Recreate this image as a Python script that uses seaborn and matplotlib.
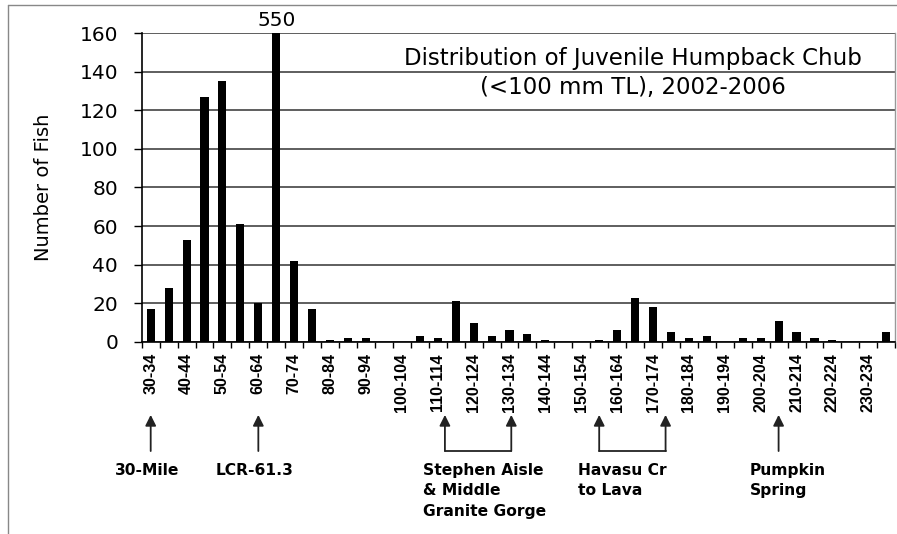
import numpy as np
import seaborn as sns
import matplotlib
matplotlib.use("Agg")
import matplotlib.pyplot as plt
from matplotlib.lines import Line2D

# length classes (mm TL) and fish counts
bins = [f"{a}-{a + 4}" for a in range(30, 240, 5)]
counts = [17, 28, 53, 127, 135, 61, 20, 550, 42, 17,
          1, 2, 2, 0, 0, 3, 2, 21, 10, 3,
          6, 4, 1, 0, 0, 1, 6, 23, 18, 5,
          2, 3, 0, 2, 2, 11, 5, 2, 1, 0,
          0, 5]
tick_labels = bins[::2]
y_ticks = list(range(0, 161, 20))

# river locations under the axis (x in bin index units)
single_arrows = [(0, "30-Mile"), (6, "LCR-61.3"), (35, "Pumpkin\nSpring")]
bracket_arrows = [(16.4, 20.1, "Stephen Aisle\n& Middle\nGranite Gorge"),
                  (25.0, 28.7, "Havasu Cr\nto Lava")]

sns.set_style("white")
plt.rcParams['font.family'] = ['DejaVu Sans']
plt.rcParams['text.color'] = 'black'
plt.rcParams['axes.labelcolor'] = 'black'
plt.rcParams['xtick.color'] = 'black'
plt.rcParams['ytick.color'] = 'black'

fig = plt.figure(figsize=(8.97, 5.34), dpi=100)
ax = fig.add_axes([0.158, 0.3596, 0.840, 0.5786])

sns.barplot(x=bins, y=counts, color="black", saturation=1, width=0.45,
            linewidth=0, ax=ax, zorder=3)

ax.set_xlim(-0.5, len(bins) - 0.5)
ax.set_ylim(0, 160)
ax.set_yticks(y_ticks)
ax.yaxis.grid(True, color="#333333", lw=1.1)
ax.set_axisbelow(True)

# labels at every other class, tick marks at class boundaries
ax.set_xticks(range(0, len(bins), 2), labels=tick_labels)
ax.set_xticks(np.arange(-0.5, len(bins), 1), minor=True)
ax.tick_params(axis="x", which="major", length=0, pad=8)
ax.tick_params(axis="x", which="minor", length=4, width=1, color="black", direction="out", bottom=True)
for lbl in ax.get_xticklabels():
    lbl.set_rotation(90)
    lbl.set_family("Liberation Sans")
    lbl.set_fontweight("bold")
    lbl.set_fontsize(11.5)
ax.tick_params(axis="y", length=6, width=1, color="black", direction="out", left=True, pad=11, labelsize=14.5)

ax.set_xlabel("")
ax.set_ylabel("Number of Fish", fontsize=14)
ax.yaxis.set_label_coords(-0.118, 0.5)

for side in ["left", "bottom"]:
    ax.spines[side].set_color("black")
    ax.spines[side].set_linewidth(1.2)
ax.spines["top"].set_visible(False)
ax.spines["right"].set_color("#999999")
ax.spines["right"].set_linewidth(1)

# off-scale bar value
ax.text(7, 1.042, str(counts[7]), transform=ax.get_xaxis_transform(),
        ha="center", va="center", fontsize=14.5)

ax.text(0.652, 0.919, "Distribution of Juvenile Humpback Chub", transform=ax.transAxes,
        ha="center", va="center", fontsize=16.5)
ax.text(0.652, 0.822, "(<100 mm TL), 2002-2006", transform=ax.transAxes,
        ha="center", va="center", fontsize=16.5)

# arrows to the river locations
trans = ax.get_xaxis_transform()
tip_y, base_y, text_y = -0.236, -0.353, -0.392
arrow_kw = dict(arrowstyle="-|>", color="#222222", lw=1.3, mutation_scale=16, shrinkA=0, shrinkB=0)

def up_arrow(x):
    ax.annotate("", xy=(x, tip_y), xytext=(x, base_y), xycoords=trans, textcoords=trans,
                arrowprops=arrow_kw, annotation_clip=False)

for x, name in single_arrows:
    up_arrow(x)
    if "\n" in name:
        ax.text(x - 1.6, text_y, name, transform=trans, ha="left", va="top",
                fontsize=11.2, fontweight="bold", linespacing=1.45, clip_on=False)
    else:
        ax.text(x - 0.2, text_y, name, transform=trans, ha="center", va="top",
                fontsize=11.2, fontweight="bold", clip_on=False)

for x1, x2, name in bracket_arrows:
    up_arrow(x1)
    up_arrow(x2)
    ax.plot([x1, x2], [base_y, base_y], color="#222222", lw=1.3, transform=trans, clip_on=False)
    ax.text(x1 - 1.2, text_y, name, transform=trans, ha="left", va="top",
            fontsize=11.2, fontweight="bold", linespacing=1.45, clip_on=False)

# outer frame of the original figure
fig.add_artist(Line2D([0.0089, 1.0], [0.9906, 0.9906], transform=fig.transFigure, color="#888888", lw=1))
fig.add_artist(Line2D([0.0089, 0.0089], [0.0, 0.9906], transform=fig.transFigure, color="#888888", lw=1))

fig.savefig("out.png", dpi=100)
